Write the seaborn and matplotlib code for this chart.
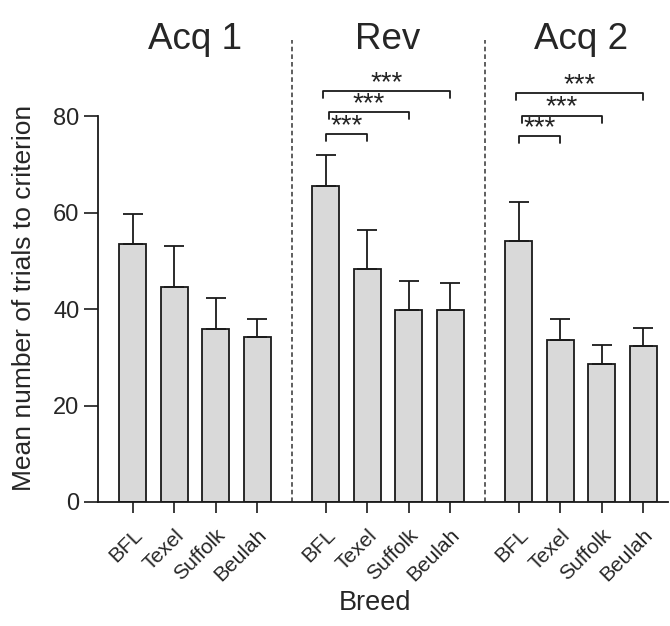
import pandas as pd
import matplotlib.pyplot as plt
import seaborn as sns

# Data
phases = ['Acq 1', 'Rev', 'Acq 2']
breeds = ['BFL', 'Texel', 'Suffolk', 'Beulah']
acq1_mean = [53.4, 44.6, 35.9, 34.1]
acq1_sem = [6.2, 8.4, 6.4, 3.8]
rev_mean = [65.6, 48.4, 39.8, 39.9]
rev_sem = [6.4, 8.0, 6.1, 5.4]
acq2_mean = [54.2, 33.6, 28.7, 32.3]
acq2_sem = [7.9, 4.3, 3.8, 3.7]

# significance brackets: (breed index compared with BFL, bracket height)
rev_brackets = [(1, 76.3), (2, 80.8), (3, 85.2)]
acq2_brackets = [(1, 75.9), (2, 80.1), (3, 84.8)]

group_offset = 4.65
means = [acq1_mean, rev_mean, acq2_mean]
sems = [acq1_sem, rev_sem, acq2_sem]
rows = []
for g, phase in enumerate(phases):
    for b, breed in enumerate(breeds):
        rows.append({'phase': phase, 'breed': breed, 'pos': g * group_offset + b,
                     'mean': means[g][b], 'sem': sems[g][b]})
df = pd.DataFrame(rows)

sns.set_style('ticks')
plt.rcParams['font.family'] = ['Liberation Sans', 'DejaVu Sans']

fig = plt.figure(figsize=(6.7, 6.26), dpi=100)
ax = fig.add_axes([0.1463, 0.1981, 0.851, 0.786])

sns.barplot(data=df, x='pos', y='mean', native_scale=True, width=0.65,
            color='#d9d9d9', edgecolor='#1a1a1a', linewidth=1.3,
            saturation=1, errorbar=None, ax=ax)
ax.errorbar(df['pos'], df['mean'], yerr=[[0] * len(df), df['sem']], fmt='none',
            ecolor='#1a1a1a', elinewidth=1.3, capsize=7.5, capthick=1.3, zorder=1)

# dashed separators between phases
for xd in [3.83, 3.83 + group_offset]:
    ax.plot([xd, xd], [0, 95.7], ls=(0, (3, 2)), color='#333333', lw=1.1)

# phase titles
for g, phase in enumerate(phases):
    ax.text(g * group_offset + 1.5, 94, phase, ha='center', va='baseline', fontsize=26.5)

# significance brackets
left_shift = [0, 0.08, -0.06]
for g, brackets in [(1, rev_brackets), (2, acq2_brackets)]:
    x0 = g * group_offset
    for i, (b, h) in enumerate(brackets):
        left = x0 + left_shift[i]
        right = x0 + b
        ax.plot([left, left, right, right], [h - 1.5, h, h, h - 1.5],
                color='#1a1a1a', lw=1.3)
        ax.text((left + right) / 2, h + 0.2, '***', ha='center', va='baseline',
                fontsize=20, color='#222222')

ax.set_xlim(-0.84, 12.9)
ax.set_ylim(0, 102)
ax.set_yticks([0, 20, 40, 60, 80])
ax.spines['left'].set_bounds(0, 80)
ax.set_xticks(df['pos'])
ax.set_xticklabels(df['breed'], rotation=45, ha='right', rotation_mode='anchor',
                   fontsize=15)
ax.tick_params(axis='y', labelsize=17, length=10, width=1.2, color='#1a1a1a')
ax.tick_params(axis='x', length=8, width=1.2, color='#1a1a1a', pad=9)
for s in ['left', 'bottom']:
    ax.spines[s].set_linewidth(1.3)
    ax.spines[s].set_color('#1a1a1a')
sns.despine(ax=ax)
ax.set_ylabel('Mean number of trials to criterion', fontsize=19)
ax.yaxis.set_label_coords(-0.109, 0.415)
ax.set_xlabel('Breed', fontsize=19.5)
ax.xaxis.set_label_coords(0.486, -0.179)

fig.savefig('out.png', dpi=100)
